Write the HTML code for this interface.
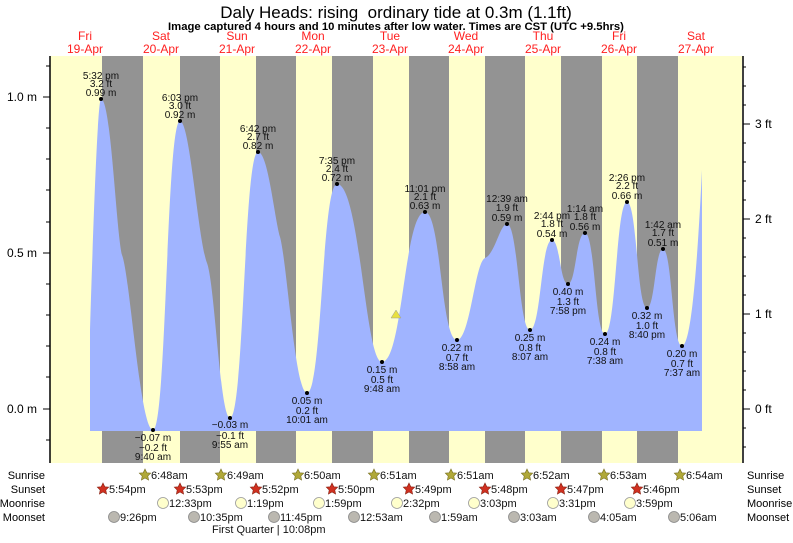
<!DOCTYPE html>
<html><head><meta charset="utf-8"><style>
body{margin:0;background:#fff}
svg text{font-family:"Liberation Sans",sans-serif}
</style></head><body>
<svg width="793" height="538" viewBox="0 0 793 538" xmlns="http://www.w3.org/2000/svg">
<rect x="50" y="56" width="692" height="407" fill="#ffffcc"/>
<g fill="#939393">
<rect x="102" y="56" width="41" height="407"/>
<rect x="180" y="56" width="40" height="407"/>
<rect x="256" y="56" width="40" height="407"/>
<rect x="332" y="56" width="41" height="407"/>
<rect x="409" y="56" width="40" height="407"/>
<rect x="485" y="56" width="40" height="407"/>
<rect x="561" y="56" width="41" height="407"/>
<rect x="637" y="56" width="41" height="407"/>
</g>
<path fill="#a0b4ff" d="M90,431 L90,330 C94,200 98,99 101,99 C111,99 116,230 122,255 C130,275 140,430 153,430 C166.5,430 166.5,121 180,121 C190,121 198,240 207,263 C215,285 220,418 230,418 C244,418 244,152 258,152 C268,152 274,215 280,237 C287,262 295,393 307,393 C322,393 322,184 337,184 C360,184 365,362 382,362 C403,362 404,212 425,212 C441,212 441,340 457,340 C470,340 475,262 485,258 C495,254 500,224 507,224 C518,224 519,330 530,330 C541,330 541,240 552,240 C560,240 560,284 568,284 C576,284 576,233 585,233 C595,233 595,334 605,334 C616,334 616,202 627,202 C637,202 637,308 647,308 C655,308 655,249 663,249 C672,249 672,346 682,346 C692,346 698,250 702,170 L702,431 Z"/>
<g stroke="#000" stroke-width="1.5"><line x1="50" y1="56" x2="50" y2="463"/><line x1="743" y1="56" x2="743" y2="463"/></g>
<g stroke="#000" stroke-width="1">
<line x1="43" y1="97" x2="50" y2="97"/><line x1="43" y1="253" x2="50" y2="253"/><line x1="43" y1="409" x2="50" y2="409"/>
<line x1="46" y1="66" x2="50" y2="66"/><line x1="46" y1="128" x2="50" y2="128"/><line x1="46" y1="159" x2="50" y2="159"/><line x1="46" y1="190" x2="50" y2="190"/><line x1="46" y1="222" x2="50" y2="222"/><line x1="46" y1="284" x2="50" y2="284"/><line x1="46" y1="315" x2="50" y2="315"/><line x1="46" y1="346" x2="50" y2="346"/><line x1="46" y1="377" x2="50" y2="377"/><line x1="46" y1="440" x2="50" y2="440"/>
<line x1="743" y1="124" x2="750" y2="124"/><line x1="743" y1="219" x2="750" y2="219"/><line x1="743" y1="314" x2="750" y2="314"/><line x1="743" y1="409" x2="750" y2="409"/>
<line x1="743" y1="67" x2="746" y2="67"/><line x1="743" y1="86" x2="746" y2="86"/><line x1="743" y1="105" x2="746" y2="105"/><line x1="743" y1="143" x2="746" y2="143"/><line x1="743" y1="162" x2="746" y2="162"/><line x1="743" y1="181" x2="746" y2="181"/><line x1="743" y1="200" x2="746" y2="200"/><line x1="743" y1="238" x2="746" y2="238"/><line x1="743" y1="257" x2="746" y2="257"/><line x1="743" y1="276" x2="746" y2="276"/><line x1="743" y1="295" x2="746" y2="295"/><line x1="743" y1="333" x2="746" y2="333"/><line x1="743" y1="352" x2="746" y2="352"/><line x1="743" y1="371" x2="746" y2="371"/><line x1="743" y1="390" x2="746" y2="390"/><line x1="743" y1="428" x2="746" y2="428"/><line x1="743" y1="447" x2="746" y2="447"/>
</g>
<g font-size="12" fill="#000">
<text x="37" y="101" text-anchor="end">1.0 m</text><text x="37" y="257" text-anchor="end">0.5 m</text><text x="37" y="413" text-anchor="end">0.0 m</text>
<text x="755" y="128">3 ft</text><text x="755" y="223">2 ft</text><text x="755" y="318">1 ft</text><text x="755" y="413">0 ft</text>
</g>
<text x="396" y="18" font-size="17" text-anchor="middle">Daly Heads: rising &#160;ordinary tide at 0.3m (1.1ft)</text>
<text x="396" y="30" font-size="11.3" font-weight="bold" text-anchor="middle">Image captured 4 hours and 10 minutes after low water. Times are CST (UTC +9.5hrs)</text>
<g font-size="12" fill="#ff2020" text-anchor="middle">
<text x="85" y="40">Fri</text><text x="85" y="53">19‑Apr</text>
<text x="161" y="40">Sat</text><text x="161" y="53">20‑Apr</text>
<text x="237" y="40">Sun</text><text x="237" y="53">21‑Apr</text>
<text x="313" y="40">Mon</text><text x="313" y="53">22‑Apr</text>
<text x="390" y="40">Tue</text><text x="390" y="53">23‑Apr</text>
<text x="466" y="40">Wed</text><text x="466" y="53">24‑Apr</text>
<text x="543" y="40">Thu</text><text x="543" y="53">25‑Apr</text>
<text x="619" y="40">Fri</text><text x="619" y="53">26‑Apr</text>
<text x="696" y="40">Sat</text><text x="696" y="53">27‑Apr</text>
</g>
<g fill="#000">
<circle cx="101" cy="99" r="2"/><circle cx="153" cy="430" r="2"/><circle cx="180" cy="121" r="2"/><circle cx="230" cy="418" r="2"/><circle cx="258" cy="152" r="2"/><circle cx="307" cy="393" r="2"/><circle cx="337" cy="184" r="2"/><circle cx="382" cy="362" r="2"/><circle cx="425" cy="212" r="2"/><circle cx="457" cy="340" r="2"/><circle cx="507" cy="224" r="2"/><circle cx="530" cy="330" r="2"/><circle cx="552" cy="240" r="2"/><circle cx="568" cy="284" r="2"/><circle cx="585" cy="233" r="2"/><circle cx="605" cy="334" r="2"/><circle cx="627" cy="202" r="2"/><circle cx="647" cy="308" r="2"/><circle cx="663" cy="249" r="2"/><circle cx="682" cy="346" r="2"/>
</g>
<polygon points="391,318 401,318 396,310" fill="#e8e040" stroke="#999" stroke-width="0.5"/>
<g font-size="10" fill="#111" text-anchor="middle">
<text x="101" y="79">5:32 pm</text><text x="101" y="87">3.2 ft</text><text x="101" y="96">0.99 m</text>
<text x="180" y="101">6:03 pm</text><text x="180" y="109">3.0 ft</text><text x="180" y="118">0.92 m</text>
<text x="258" y="132">6:42 pm</text><text x="258" y="140">2.7 ft</text><text x="258" y="149">0.82 m</text>
<text x="337" y="164">7:35 pm</text><text x="337" y="172">2.4 ft</text><text x="337" y="181">0.72 m</text>
<text x="425" y="192">11:01 pm</text><text x="425" y="200">2.1 ft</text><text x="425" y="209">0.63 m</text>
<text x="507" y="202">12:39 am</text><text x="507" y="211">1.9 ft</text><text x="507" y="221">0.59 m</text>
<text x="552" y="219">2:44 pm</text><text x="552" y="227">1.8 ft</text><text x="552" y="237">0.54 m</text>
<text x="585" y="212">1:14 am</text><text x="585" y="220">1.8 ft</text><text x="585" y="230">0.56 m</text>
<text x="627" y="181">2:26 pm</text><text x="627" y="189">2.2 ft</text><text x="627" y="199">0.66 m</text>
<text x="663" y="228">1:42 am</text><text x="663" y="236">1.7 ft</text><text x="663" y="246">0.51 m</text>
<text x="153" y="441">−0.07 m</text><text x="153" y="451">−0.2 ft</text><text x="153" y="460">9:40 am</text>
<text x="230" y="428">−0.03 m</text><text x="230" y="439">−0.1 ft</text><text x="230" y="448">9:55 am</text>
<text x="307" y="404">0.05 m</text><text x="307" y="414">0.2 ft</text><text x="307" y="423">10:01 am</text>
<text x="382" y="373">0.15 m</text><text x="382" y="383">0.5 ft</text><text x="382" y="392">9:48 am</text>
<text x="457" y="351">0.22 m</text><text x="457" y="361">0.7 ft</text><text x="457" y="370">8:58 am</text>
<text x="530" y="341">0.25 m</text><text x="530" y="351">0.8 ft</text><text x="530" y="360">8:07 am</text>
<text x="568" y="295">0.40 m</text><text x="568" y="305">1.3 ft</text><text x="568" y="314">7:58 pm</text>
<text x="605" y="345">0.24 m</text><text x="605" y="355">0.8 ft</text><text x="605" y="364">7:38 am</text>
<text x="647" y="319">0.32 m</text><text x="647" y="329">1.0 ft</text><text x="647" y="338">8:40 pm</text>
<text x="682" y="357">0.20 m</text><text x="682" y="367">0.7 ft</text><text x="682" y="376">7:37 am</text>
</g>
<defs>
<polygon id="st" points="0,-6 1.8,-2.2 5.7,-1.9 2.8,1.1 3.6,5 0,3 -3.6,5 -2.8,1.1 -5.7,-1.9 -1.8,-2.2"/>
</defs>
<g font-size="11" fill="#000">
<text x="45" y="479" text-anchor="end">Sunrise</text><text x="45" y="493" text-anchor="end">Sunset</text><text x="45" y="507" text-anchor="end">Moonrise</text><text x="45" y="521" text-anchor="end">Moonset</text>
<text x="747" y="479">Sunrise</text><text x="747" y="493">Sunset</text><text x="747" y="507">Moonrise</text><text x="747" y="521">Moonset</text>
</g>
<g fill="#b0a838" stroke="#776f20" stroke-width="0.6">
<use href="#st" x="145" y="475"/><use href="#st" x="221" y="475"/><use href="#st" x="298" y="475"/><use href="#st" x="374" y="475"/><use href="#st" x="451" y="475"/><use href="#st" x="527" y="475"/><use href="#st" x="604" y="475"/><use href="#st" x="680" y="475"/>
</g>
<g fill="#d03020" stroke="#882010" stroke-width="0.6">
<use href="#st" x="103" y="489"/><use href="#st" x="180" y="489"/><use href="#st" x="256" y="489"/><use href="#st" x="332" y="489"/><use href="#st" x="409" y="489"/><use href="#st" x="485" y="489"/><use href="#st" x="561" y="489"/><use href="#st" x="637" y="489"/>
</g>
<g fill="#ffffcc" stroke="#999" stroke-width="0.8">
<circle cx="163" cy="503" r="5.5"/><circle cx="241" cy="503" r="5.5"/><circle cx="319" cy="503" r="5.5"/><circle cx="397" cy="503" r="5.5"/><circle cx="474" cy="503" r="5.5"/><circle cx="553" cy="503" r="5.5"/><circle cx="630" cy="503" r="5.5"/>
</g>
<g fill="#bbb8b0" stroke="#888" stroke-width="0.8">
<circle cx="114" cy="517" r="5.5"/><circle cx="194" cy="517" r="5.5"/><circle cx="274" cy="517" r="5.5"/><circle cx="354" cy="517" r="5.5"/><circle cx="435" cy="517" r="5.5"/><circle cx="514" cy="517" r="5.5"/><circle cx="594" cy="517" r="5.5"/><circle cx="674" cy="517" r="5.5"/>
</g>
<g font-size="11" fill="#111">
<text x="151" y="479">6:48am</text><text x="227" y="479">6:49am</text><text x="304" y="479">6:50am</text><text x="380" y="479">6:51am</text><text x="457" y="479">6:51am</text><text x="533" y="479">6:52am</text><text x="610" y="479">6:53am</text><text x="686" y="479">6:54am</text>
<text x="109" y="493">5:54pm</text><text x="186" y="493">5:53pm</text><text x="262" y="493">5:52pm</text><text x="338" y="493">5:50pm</text><text x="415" y="493">5:49pm</text><text x="491" y="493">5:48pm</text><text x="567" y="493">5:47pm</text><text x="643" y="493">5:46pm</text>
<text x="169" y="507">12:33pm</text><text x="247" y="507">1:19pm</text><text x="325" y="507">1:59pm</text><text x="403" y="507">2:32pm</text><text x="480" y="507">3:03pm</text><text x="559" y="507">3:31pm</text><text x="636" y="507">3:59pm</text>
<text x="120" y="521">9:26pm</text><text x="200" y="521">10:35pm</text><text x="280" y="521">11:45pm</text><text x="360" y="521">12:53am</text><text x="441" y="521">1:59am</text><text x="520" y="521">3:03am</text><text x="600" y="521">4:05am</text><text x="680" y="521">5:06am</text>
<text x="212" y="533">First Quarter | 10:08pm</text>
</g>
</svg>
</body></html>
